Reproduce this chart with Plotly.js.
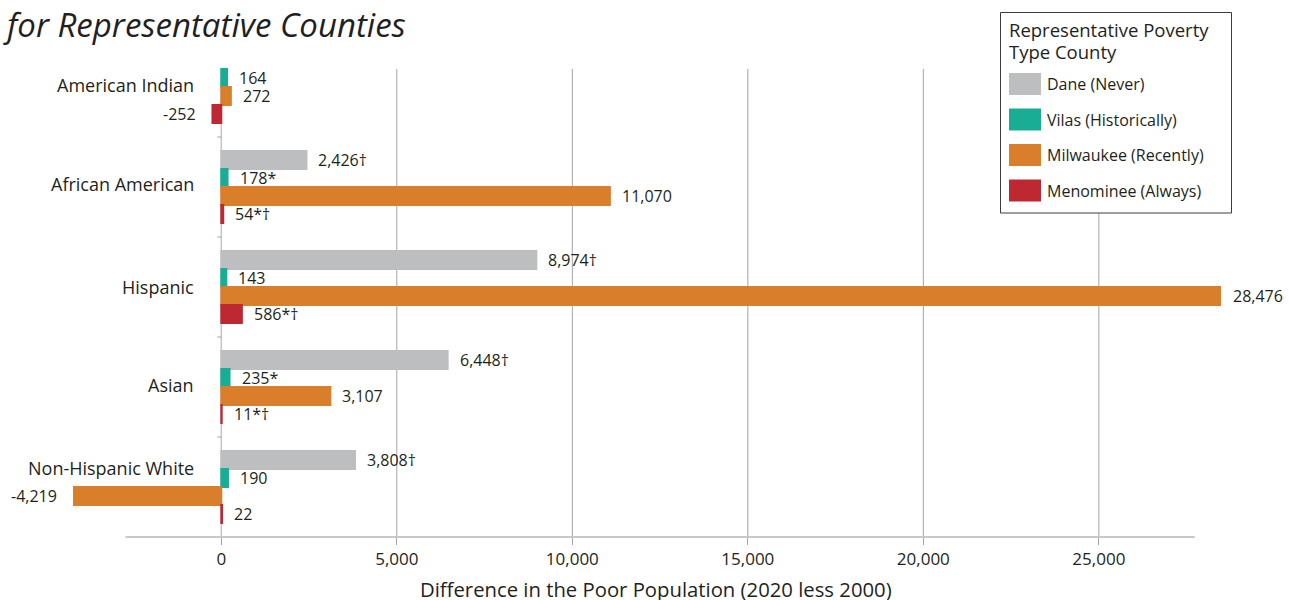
<!DOCTYPE html>
<html>
<head>
<meta charset="utf-8">
<script src="https://cdn.plot.ly/plotly-3.0.1.min.js"></script>
<style>html,body{margin:0;padding:0;background:#fff;}#chart{width:1289px;height:600px;}</style>
</head>
<body>
<div id="chart"></div>
<script>
// ---- data ----
const categories = ['American Indian', 'African American', 'Hispanic', 'Asian', 'Non-Hispanic White'];
const seriesNames = ['Dane (Never)', 'Vilas (Historically)', 'Milwaukee (Recently)', 'Menominee (Always)'];
const dane = [null, 2426, 8974, 6448, 3808];
const daneFlags = ['', '†', '†', '†', '†'];
const vilas = [164, 178, 143, 235, 190];
const vilasFlags = ['', '*', '', '*', ''];
const milwaukee = [272, 11070, 28476, 3107, -4219];
const milwaukeeFlags = ['', '', '', '', ''];
const menominee = [-252, 54, 586, 11, 22];
const menomineeFlags = ['', '*†', '*†', '*†', ''];
const seriesColors = ['#bdbec0', '#19ad95', '#d97e2b', '#bd2832'];
const xTickVals = [0, 5000, 10000, 15000, 20000, 25000];
const titleText = 'for Representative Counties';
const xTitleText = 'Difference in the Poor Population (2020 less 2000)';
const legendTitle = ['Representative Poverty', 'Type County'];

// ---- build ----
const seriesValues = [dane, vilas, milwaukee, menominee];
const seriesFlags = [daneFlags, vilasFlags, milwaukeeFlags, menomineeFlags];
const FONT = 'Open Sans, Noto Sans, sans-serif';
const TXT = '#231f20';

const L = 73, T = 37, W = 1148, H = 500;
const px = x => (x - L) / W;
const py = y => (T + H - y) / H;

const traces = seriesValues.map((vals, k) => ({
  type: 'bar', orientation: 'h', y: categories, x: vals, name: seriesNames[k],
  marker: {color: seriesColors[k], line: {width: 2, color: seriesColors[k]}}, hoverinfo: 'skip', showlegend: false
}));

const annotations = [];
const shapes = [];
const slot = 0.18;
seriesValues.forEach((vals, k) => {
  vals.forEach((v, i) => {
    if (v === null) return;
    const neg = v < 0;
    annotations.push({
      xref: 'x', yref: 'y', x: v, y: i + (k - 1.5) * slot,
      text: v.toLocaleString('en-US') + seriesFlags[k][i],
      showarrow: false, xanchor: neg ? 'right' : 'left', yanchor: 'middle',
      xshift: neg ? -14 : 10, font: {family: FONT, size: 16, color: TXT}
    });
  });
});

// category labels
const labelNudge = [2, 3, 0, 2, 19];
categories.forEach((c, i) => {
  annotations.push({
    xref: 'paper', yref: 'y', x: px(196), y: i, yshift: labelNudge[i],
    text: c, showarrow: false, xanchor: 'right', yanchor: 'middle',
    font: {family: FONT, size: 18, color: TXT}
  });
});

// gridlines
xTickVals.slice(1).forEach(v => {
  shapes.push({type: 'line', xref: 'x', yref: 'paper', x0: v, x1: v, y0: py(537), y1: py(69),
    line: {color: '#a4a4a4', width: 1}, layer: 'below'});
});
// zero line
shapes.push({type: 'line', xref: 'x', yref: 'paper', x0: 0, x1: 0, y0: py(537), y1: py(69),
  line: {color: '#c4c4c4', width: 1.5}, layer: 'below'});
// y ticks at category boundaries
for (let i = 0; i < categories.length - 1; i++) {
  shapes.push({type: 'line', xref: 'x', yref: 'y', xsizemode: 'pixel', xanchor: 0, x0: -4, x1: 0,
    y0: i + 0.5, y1: i + 0.5, line: {color: '#a4a4a4', width: 1}});
}
// x axis line
shapes.push({type: 'line', xref: 'x', yref: 'paper', x0: -2730, x1: 27730, y0: 0, y1: 0,
  line: {color: '#c8c8c8', width: 2}, layer: 'above'});

// legend box
shapes.push({type: 'rect', xref: 'paper', yref: 'paper', x0: px(1000.5), x1: px(1231.5), y0: py(213), y1: py(12.5),
  fillcolor: '#ffffff', line: {color: '#3c3c3c', width: 1}, layer: 'above'});
legendTitle.forEach((t, j) => {
  annotations.push({xref: 'paper', yref: 'paper', x: px(1007), y: py(30 + j * 21.5), text: t,
    showarrow: false, xanchor: 'left', yanchor: 'middle', font: {family: FONT, size: 18.5, color: TXT}});
});
seriesNames.forEach((n, k) => {
  const top = 73 + k * 35.5;
  shapes.push({type: 'rect', xref: 'paper', yref: 'paper', x0: px(1009), x1: px(1041), y0: py(top + 22), y1: py(top),
    fillcolor: seriesColors[k], line: {width: 0}, layer: 'above'});
  annotations.push({xref: 'paper', yref: 'paper', x: px(1045), y: py(top + 11), text: n,
    showarrow: false, xanchor: 'left', yanchor: 'middle', font: {family: FONT, size: 16, color: TXT}});
});

// axis title
annotations.push({xref: 'paper', yref: 'paper', x: px(656), y: py(589), text: xTitleText,
  showarrow: false, xanchor: 'center', yanchor: 'middle', font: {family: FONT, size: 20.3, color: TXT}});

const layout = {
  width: 1289, height: 600,
  margin: {l: L, r: 1289 - L - W, t: T, b: 600 - T - H, pad: 0},
  paper_bgcolor: '#ffffff', plot_bgcolor: '#ffffff',
  font: {family: FONT, color: TXT},
  title: {text: titleText, x: 7 / 1289, xanchor: 'left', y: 1 - 25 / 600, yanchor: 'middle',
    font: {family: FONT, size: 33, style: 'italic', color: TXT}},
  barmode: 'group', bargap: 0.28, bargroupgap: 0,
  xaxis: {range: [-4225, 28480], tickvals: xTickVals, ticktext: xTickVals.map(v => v.toLocaleString('en-US')),
    ticks: 'outside', ticklen: 7, tickcolor: '#a4a4a4', tickwidth: 1,
    showgrid: false, zeroline: false, showline: false, fixedrange: true,
    tickfont: {family: FONT, size: 17, color: TXT}},
  yaxis: {type: 'category', range: [4.5, -0.5], showticklabels: false, showgrid: false, zeroline: false,
    showline: false, ticks: '', fixedrange: true},
  shapes: shapes, annotations: annotations, showlegend: false
};

Plotly.newPlot('chart', traces, layout, {displayModeBar: false, staticPlot: true});
</script>
</body>
</html>
